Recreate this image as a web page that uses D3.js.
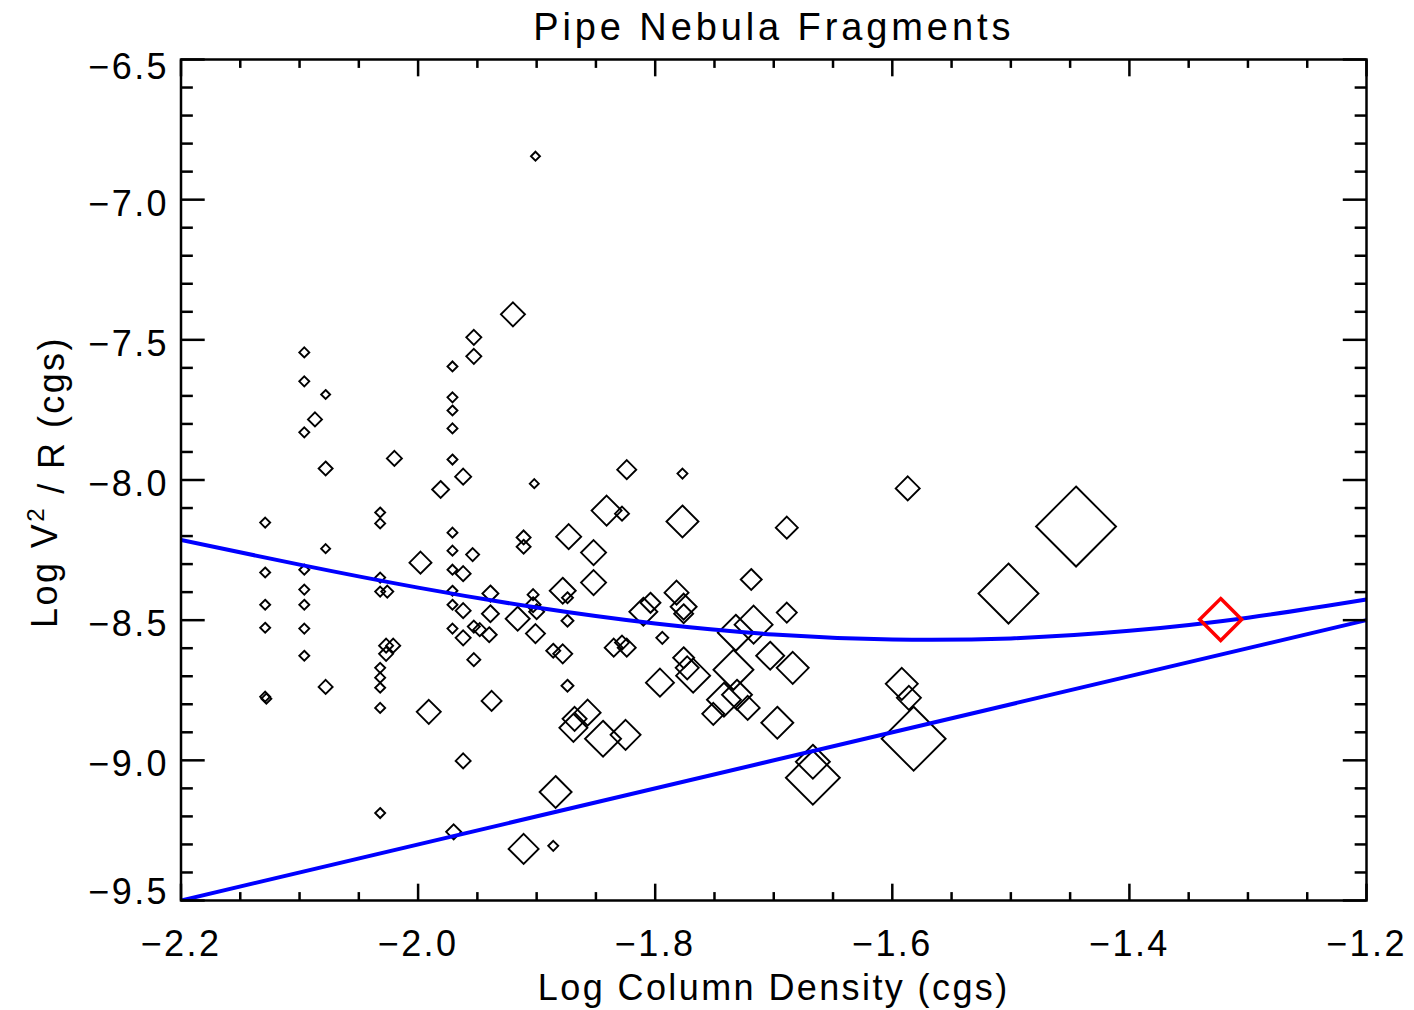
<!DOCTYPE html>
<html>
<head>
<meta charset="utf-8">
<script src="https://cdn.jsdelivr.net/npm/d3@7"></script>
<style>
  html, body { margin: 0; padding: 0; background: #fff; }
  svg { display: block; }
  text { font-family: "Liberation Sans", Helvetica, Arial, sans-serif; fill: #000; }
</style>
</head>
<body>
<svg id="chart" width="1414" height="1010"></svg>
<script>
// Fragments: log column density, log V^2/R, marker size (IDL symsize)
const logN = [
  -2.129, -2.129, -2.129, -2.129, -2.129, -2.128,
  -2.096, -2.096, -2.078, -2.087, -2.096, -2.078, -2.078,
  -2.096, -2.096, -2.096, -2.096, -2.096, -2.078,
  -2.020, -2.032, -2.032, -2.032, -2.032, -2.026, -2.027, -2.021, -2.027,
  -2.032, -2.032, -2.032, -2.032, -2.032, -1.998, -1.991,
  -1.971, -1.971, -1.971, -1.971, -1.971, -1.962, -1.981, -1.971, -1.971,
  -1.954, -1.971, -1.962, -1.971, -1.971, -1.962, -1.939, -1.939, -1.971,
  -1.962, -1.953, -1.948, -1.940, -1.953, -1.938, -1.962, -1.970,
  -1.901, -1.920, -1.953, -1.953, -1.902, -1.824, -1.777, -1.841, -1.828,
  -1.777, -1.911, -1.911, -1.873, -1.852, -1.852, -1.689, -1.587, -1.719,
  -1.878, -1.874, -1.903, -1.903, -1.900, -1.916, -1.901, -1.874, -1.886,
  -1.878, -1.874, -1.810, -1.804, -1.782, -1.776, -1.776, -1.794, -1.835,
  -1.828, -1.824, -1.776, -1.773, -1.768, -1.796, -1.734, -1.717, -1.732,
  -1.703, -1.689, -1.684, -1.742, -1.731, -1.722, -1.751, -1.697,
  -1.857, -1.868, -1.869, -1.844, -1.825, -1.884, -1.911, -1.886,
  -1.667, -1.667, -1.592, -1.586, -1.582, -1.502, -1.445
];
const logVR = [
  -8.152, -8.330, -8.445, -8.527, -8.773, -8.780,
  -7.545, -7.648, -7.695, -7.784, -7.830, -7.959, -8.245,
  -8.320, -8.391, -8.445, -8.530, -8.627, -8.738,
  -7.923, -8.116, -8.155, -8.348, -8.398, -8.398, -8.591, -8.591, -8.620,
  -8.670, -8.705, -8.741, -8.813, -9.188, -8.295, -8.827,
  -7.595, -7.705, -7.752, -7.816, -7.927, -7.988, -8.034, -8.188, -8.252,
  -8.266, -8.320, -8.334, -8.395, -8.445, -8.466, -8.405, -8.477, -8.530,
  -8.563, -8.523, -8.534, -8.552, -8.641, -8.788, -9.002, -9.255,
  -6.845, -7.409, -7.491, -7.559, -8.013, -7.963, -7.977, -8.109, -8.120,
  -8.148, -8.205, -8.238, -8.202, -8.259, -8.366, -8.170, -8.030, -8.355,
  -8.395, -8.420, -8.409, -8.445, -8.470, -8.495, -8.548, -8.502, -8.609,
  -8.620, -8.734, -8.470, -8.438, -8.402, -8.452, -8.477, -8.563, -8.598,
  -8.580, -8.598, -8.634, -8.670, -8.698, -8.723, -8.677, -8.516, -8.545,
  -8.627, -8.473, -8.670, -8.784, -8.766, -8.813, -8.834, -8.866,
  -8.830, -8.852, -8.884, -8.923, -8.909, -9.113, -9.316, -9.305,
  -9.005, -9.062, -8.727, -8.777, -8.923, -8.405, -8.166
];
const symSize = [
  0.5, 0.5, 0.5, 0.5, 0.5, 0.5,
  0.5, 0.5, 0.45, 0.7, 0.5, 0.7, 0.45,
  0.5, 0.5, 0.5, 0.5, 0.5, 0.7,
  0.75, 0.5, 0.5, 0.5, 0.5, 0.6, 0.7, 0.7, 0.7,
  0.5, 0.5, 0.5, 0.5, 0.5, 1.1, 1.2,
  0.5, 0.5, 0.5, 0.5, 0.5, 0.8, 0.85, 0.5, 0.5,
  0.65, 0.5, 0.75, 0.5, 0.5, 0.75, 0.8, 0.85, 0.5,
  0.75, 0.6, 0.65, 0.75, 0.65, 1.0, 0.75, 0.75,
  0.45, 1.2, 0.75, 0.75, 0.45, 0.95, 0.5, 1.5, 0.7,
  1.6, 0.7, 0.7, 1.25, 1.25, 1.25, 1.1, 1.2, 1.05,
  1.3, 0.55, 0.55, 0.75, 0.75, 1.2, 0.95, 0.6, 0.7,
  0.95, 0.6, 1.4, 1.0, 1.2, 1.3, 0.95, 0.6, 0.9,
  0.7, 0.9, 1.05, 1.15, 1.7, 1.4, 2.0, 1.9, 1.8,
  1.4, 1.0, 1.6, 1.7, 1.5, 1.2, 1.1, 1.6,
  1.3, 1.2, 1.4, 1.8, 1.5, 1.6, 1.5, 0.5,
  1.7, 2.7, 1.6, 1.2, 3.2, 3.0, 4.0
];

// highlighted fragment (red)
const markN = [-1.323];
const markVR = [-8.498];
const markSize = [2.1];

// equilibrium curves
const curveN = [-2.2, -2.1, -2.0, -1.9, -1.8, -1.7, -1.6, -1.5, -1.4, -1.3, -1.2];
const curveVR = [-8.214, -8.302, -8.384, -8.455, -8.512, -8.551, -8.569, -8.565, -8.538, -8.491, -8.426];
const lineN = [-2.2, -1.2];
const lineVR = [-9.5, -8.5];

const xTicks = [-2.2, -2.0, -1.8, -1.6, -1.4, -1.2];
const yTicks = [-9.5, -9.0, -8.5, -8.0, -7.5, -7.0, -6.5];

const width = 1414, height = 1010;
const margin = { top: 59.5, right: 47.5, bottom: 109.5, left: 181 };
const plotW = width - margin.left - margin.right;
const plotH = height - margin.top - margin.bottom;

const svg = d3.select('#chart');
const g = svg.append('g').attr('transform', `translate(${margin.left},${margin.top})`);

const x = d3.scaleLinear().domain([-2.2, -1.2]).range([0, plotW]);
const y = d3.scaleLinear().domain([-9.5, -6.5]).range([plotH, 0]);
const size = d3.scaleLinear().domain([0, 1]).range([0, 10]);

const fmt = d3.format('.1f');
const fontSize = 36;
const spacing = '2.4px';

// clip
svg.append('defs').append('clipPath').attr('id', 'plotclip')
  .append('rect').attr('width', plotW).attr('height', plotH);

const diamond = h => `M0,${-h}L${h},0L0,${h}L${-h},0Z`;

// Points
const pts = logN.map((n, i) => ({ n, v: logVR[i], s: symSize[i] }));
g.append('g')
  .selectAll('path')
  .data(pts)
  .join('path')
  .attr('transform', d => `translate(${x(d.n)},${y(d.v)})`)
  .attr('d', d => diamond(size(d.s)))
  .attr('fill', 'none')
  .attr('stroke', '#000')
  .attr('stroke-width', 1.9);

// Curves
const lines = g.append('g').attr('clip-path', 'url(#plotclip)');
lines.append('path')
  .datum(curveN.map((n, i) => [n, curveVR[i]]))
  .attr('d', d3.line().x(d => x(d[0])).y(d => y(d[1])).curve(d3.curveNatural))
  .attr('fill', 'none').attr('stroke', '#0000ff').attr('stroke-width', 4);
lines.append('path')
  .datum(lineN.map((n, i) => [n, lineVR[i]]))
  .attr('d', d3.line().x(d => x(d[0])).y(d => y(d[1])))
  .attr('fill', 'none').attr('stroke', '#0000ff').attr('stroke-width', 4);

// Red marker
g.append('g')
  .selectAll('path')
  .data(markN.map((n, i) => ({ n, v: markVR[i], s: markSize[i] })))
  .join('path')
  .attr('transform', d => `translate(${x(d.n)},${y(d.v)})`)
  .attr('d', d => diamond(size(d.s)))
  .attr('fill', 'none')
  .attr('stroke', '#ff0000')
  .attr('stroke-width', 3.5);

// Axes frame and ticks (IDL style: ticks inward on all sides)
const xMajorLen = 0.02 * plotH, yMajorLen = 0.02 * plotW;
const axes = g.append('g').attr('stroke', '#000').attr('stroke-width', 2.5);

const xMinor = d3.range(-2.2, -1.2 + 1e-9, 0.05);
const yMinor = d3.range(-9.5, -6.5 + 1e-9, 0.1);

xMinor.forEach(t => {
  const major = xTicks.some(m => Math.abs(m - t) < 1e-6);
  const len = major ? xMajorLen : xMajorLen / 2;
  axes.append('line').attr('x1', x(t)).attr('x2', x(t)).attr('y1', plotH).attr('y2', plotH - len);
  axes.append('line').attr('x1', x(t)).attr('x2', x(t)).attr('y1', 0).attr('y2', len);
});
yMinor.forEach(t => {
  const major = yTicks.some(m => Math.abs(m - t) < 1e-6);
  const len = major ? yMajorLen : yMajorLen / 2;
  axes.append('line').attr('y1', y(t)).attr('y2', y(t)).attr('x1', 0).attr('x2', len);
  axes.append('line').attr('y1', y(t)).attr('y2', y(t)).attr('x1', plotW).attr('x2', plotW - len);
});
axes.append('rect').attr('width', plotW).attr('height', plotH).attr('fill', 'none');

// Tick labels
g.append('g').selectAll('text').data(xTicks).join('text')
  .attr('x', d => x(d)).attr('y', plotH + 55)
  .attr('text-anchor', 'middle')
  .style('font-size', fontSize + 'px').style('letter-spacing', spacing)
  .text(d => fmt(d));

g.append('g').selectAll('text').data(yTicks).join('text')
  .attr('x', -12)
  .attr('y', d => Math.min(Math.max(y(d) + 3, 7), plotH - 9))
  .attr('dy', '0.36em')
  .attr('text-anchor', 'end')
  .style('font-size', fontSize + 'px').style('letter-spacing', spacing)
  .text(d => fmt(d));

// Titles
svg.append('text')
  .attr('x', margin.left + plotW / 2).attr('y', 40)
  .attr('text-anchor', 'middle')
  .style('font-size', '38px').style('letter-spacing', '3.9px')
  .text('Pipe Nebula Fragments');

svg.append('text')
  .attr('x', margin.left + plotW / 2).attr('y', 1000)
  .attr('text-anchor', 'middle')
  .style('font-size', fontSize + 'px').style('letter-spacing', spacing)
  .text('Log Column Density (cgs)');

const yt = svg.append('text')
  .attr('transform', `translate(57,${margin.top + plotH / 2 + 2}) rotate(-90)`)
  .attr('text-anchor', 'middle')
  .style('font-size', fontSize + 'px').style('letter-spacing', spacing);
yt.append('tspan').text('Log V');
yt.append('tspan').attr('dy', '-0.55em').style('font-size', '24px').text('2');
yt.append('tspan').attr('dy', '0.55em').text(' / R (cgs)');
</script>
</body>
</html>
